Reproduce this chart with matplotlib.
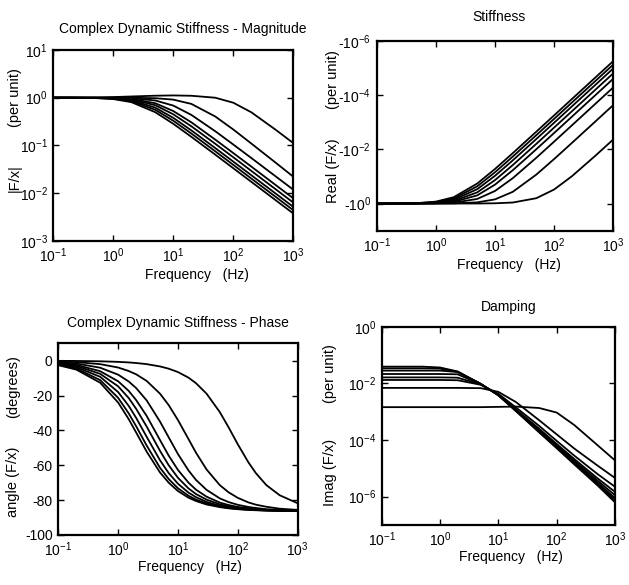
import matplotlib
matplotlib.use("Agg")
import matplotlib.pyplot as plt
from matplotlib.ticker import FixedLocator, FixedFormatter, NullLocator

plt.rcParams['font.family'] = ['Liberation Sans', 'DejaVu Sans']
plt.rcParams['mathtext.fontset'] = 'custom'
plt.rcParams['mathtext.rm'] = 'Liberation Sans'
plt.rcParams['mathtext.it'] = 'Liberation Sans:italic'
plt.rcParams['mathtext.default'] = 'regular'
plt.rcParams['axes.unicode_minus'] = False

# ---------------- data ----------------
freq_hz = [0.1, 0.2, 0.5, 1, 2, 5, 10, 20, 50, 100, 200, 500, 1000]
freq_phase_hz = [0.1, 0.2, 0.5, 1, 1.5, 2, 3, 5, 7, 10, 15, 20, 30, 50, 70,
                 100, 150, 200, 300, 500, 1000]

# |F/x| (per unit), curves A (highest corner) ... H (lowest corner)
mag_A = [1.0, 1.0, 1.01, 1.03, 1.06, 1.10, 1.115, 1.097, 0.998, 0.784, 0.493, 0.2155, 0.1115]
mag_B = [1.0, 1.0, 1.0, 0.999, 0.996, 0.975, 0.910, 0.740, 0.403, 0.215, 0.109, 0.044, 0.022]
mag_C = [1.0, 1.0, 0.998, 0.993, 0.974, 0.874, 0.682, 0.435, 0.198, 0.104, 0.0542, 0.0227, 0.01175]
mag_D = [1.0, 0.999, 0.996, 0.984, 0.943, 0.765, 0.524, 0.304, 0.132, 0.0689, 0.0358, 0.01496, 0.00774]
mag_E = [1.0, 0.999, 0.993, 0.976, 0.918, 0.695, 0.448, 0.251, 0.108, 0.0562, 0.0291, 0.01218, 0.0063]
mag_F = [1.0, 0.998, 0.990, 0.964, 0.883, 0.618, 0.377, 0.206, 0.0878, 0.0456, 0.0236, 0.0099, 0.00512]
mag_G = [0.999, 0.998, 0.986, 0.952, 0.848, 0.557, 0.328, 0.177, 0.0750, 0.0389, 0.0201, 0.00844, 0.00436]
mag_H = [0.999, 0.997, 0.981, 0.935, 0.806, 0.496, 0.283, 0.151, 0.0639, 0.0331, 0.01715, 0.00718, 0.00372]

# -Real(F/x) (per unit)
real_A = [1.0, 1.0, 1.0, 0.9998, 0.9991, 0.9943, 0.9776, 0.916, 0.6353, 0.3034, 0.0982, 0.01713, 4.337e-3]
real_B = [1.0, 1.0, 0.9989, 0.9957, 0.983, 0.9035, 0.7007, 0.3692, 0.0856, 0.02287, 5.818e-3, 9.36e-4, 2.34e-4]
real_C = [0.9998, 0.9992, 0.995, 0.981, 0.929, 0.677, 0.344, 0.1159, 0.02053, 5.214e-3, 1.309e-3, 2.097e-4, 5.24e-5]
real_D = [0.9996, 0.998, 0.990, 0.962, 0.863, 0.501, 0.2006, 0.0590, 0.00994, 2.504e-3, 6.27e-4, 1.004e-4, 2.51e-5]
real_E = [0.9994, 0.9975, 0.984, 0.941, 0.798, 0.388, 0.1367, 0.0381, 0.0063, 1.582e-3, 3.96e-4, 6.34e-5, 1.584e-5]
real_F = [0.999, 0.996, 0.977, 0.913, 0.724, 0.296, 0.0950, 0.02557, 0.004182, 1.049e-3, 2.624e-4, 4.2e-5, 1.05e-5]
real_G = [0.9987, 0.995, 0.968, 0.883, 0.654, 0.232, 0.0703, 0.01855, 0.003016, 7.56e-4, 1.89e-4, 3.025e-5, 7.56e-6]
real_H = [0.998, 0.993, 0.957, 0.849, 0.584, 0.1835, 0.0532, 0.01385, 0.002244, 5.62e-4, 1.404e-4, 2.247e-5, 5.62e-6]

# angle(F/x) (degrees), sampled at freq_phase_hz
phase_A = [-0.07, -0.13, -0.33, -0.65, -0.98, -1.31, -1.96, -3.27, -4.57, -6.52, -9.72,
           -12.9, -18.9, -29.5, -38.2, -48.0, -58.3, -64.5, -71.4, -77.2, -81.8]
phase_B = [-0.39, -0.79, -1.96, -3.9, -5.9, -7.8, -11.6, -18.9, -25.5, -34.1, -45.0,
           -52.8, -62.4, -71.4, -75.5, -78.7, -81.3, -82.6, -83.8, -84.9, -85.6]
phase_C = [-0.81, -1.62, -4.0, -8.0, -11.9, -15.7, -22.8, -34.9, -44.0, -53.6, -63.0,
           -68.4, -74.1, -79.0, -81.1, -82.7, -83.9, -84.5, -85.2, -85.6, -86.0]
phase_D = [-1.20, -2.39, -6.0, -11.8, -17.3, -22.6, -31.7, -45.5, -54.5, -62.7, -70.0,
           -74.0, -78.0, -81.4, -82.8, -83.9, -84.7, -85.1, -85.6, -85.9, -86.2]
phase_E = [-1.51, -3.01, -7.5, -14.7, -21.4, -27.6, -37.8, -51.7, -60.0, -67.2, -73.3,
           -76.5, -79.7, -82.4, -83.5, -84.4, -85.1, -85.4, -85.7, -86.0, -86.2]
phase_F = [-1.86, -3.72, -9.2, -18.0, -25.9, -32.8, -43.7, -57.1, -64.5, -70.6, -75.7,
           -78.3, -81.0, -83.2, -84.1, -84.8, -85.3, -85.6, -85.9, -86.1, -86.2]
phase_G = [-2.24, -4.48, -11.1, -21.3, -30.2, -37.6, -48.7, -61.4, -67.9, -73.2, -77.5,
           -79.7, -81.9, -83.7, -84.5, -85.1, -85.5, -85.7, -85.9, -86.1, -86.3]
phase_H = [-2.56, -5.10, -12.6, -24.0, -33.5, -41.2, -52.2, -64.1, -70.0, -74.8, -78.6,
           -80.5, -82.5, -84.0, -84.7, -85.2, -85.6, -85.8, -86.0, -86.2, -86.3]

# Imag(F/x) (per unit)
imag_A = [1.445e-3, 1.445e-3, 1.445e-3, 1.445e-3, 1.445e-3, 1.445e-3, 1.479e-3, 1.514e-3, 1.349e-3, 9.333e-4, 3.388e-4, 6.607e-5, 1.905e-5]
imag_B = [6.918e-3, 6.918e-3, 6.918e-3, 6.918e-3, 6.918e-3, 6.761e-3, 5.012e-3, 2.188e-3, 5.012e-4, 1.585e-4, 5.012e-5, 1.259e-5, 4.571e-6]
imag_C = [0.01318, 0.01318, 0.01318, 0.01318, 0.01288, 8.913e-3, 4.266e-3, 1.413e-3, 3.162e-4, 9.333e-5, 2.818e-5, 6.310e-6, 2.239e-6]
imag_D = [0.01622, 0.01622, 0.01622, 0.01622, 0.01585, 9.120e-3, 3.981e-3, 1.202e-3, 2.512e-4, 7.244e-5, 2.138e-5, 4.467e-6, 1.479e-6]
imag_E = [0.02138, 0.02138, 0.02138, 0.02138, 0.02089, 9.333e-3, 3.890e-3, 1.122e-3, 2.239e-4, 6.457e-5, 1.862e-5, 3.715e-6, 1.122e-6]
imag_F = [0.02818, 0.02818, 0.02818, 0.02818, 0.02512, 9.550e-3, 3.802e-3, 1.096e-3, 2.089e-4, 5.888e-5, 1.660e-5, 3.162e-6, 8.913e-7]
imag_G = [0.03388, 0.03388, 0.03388, 0.03311, 0.02570, 9.550e-3, 3.802e-3, 1.072e-3, 1.950e-4, 5.495e-5, 1.514e-5, 2.818e-6, 7.586e-7]
imag_H = [0.03890, 0.03890, 0.03890, 0.03631, 0.02630, 9.550e-3, 3.802e-3, 1.047e-3, 1.862e-4, 5.130e-5, 1.380e-5, 2.510e-6, 6.310e-7]

x_ticks = [0.1, 1, 10, 100, 1000]
x_ticklabels = [r'$10^{-1}$', r'$10^{0}$', r'$10^{1}$', r'$10^{2}$', r'$10^{3}$']
mag_ticks = [1e-3, 1e-2, 1e-1, 1, 10]
mag_ticklabels = [r'$10^{-3}$', r'$10^{-2}$', r'$10^{-1}$', r'$10^{0}$', r'$10^{1}$']
real_ticks = [1, 1e-2, 1e-4, 1e-6]
real_ticklabels = [r'-$10^{0}$', r'-$10^{-2}$', r'-$10^{-4}$', r'-$10^{-6}$']
phase_ticks = [0, -20, -40, -60, -80, -100]
phase_ticklabels = ['0', '-20', '-40', '-60', '-80', '-100']
imag_ticks = [1, 1e-2, 1e-4, 1e-6]
imag_ticklabels = [r'$10^{0}$', r'$10^{-2}$', r'$10^{-4}$', r'$10^{-6}$']

titles = ['Complex Dynamic Stiffness - Magnitude', 'Stiffness',
          'Complex Dynamic Stiffness - Phase', 'Damping']
xlabel_text = 'Frequency   (Hz)'

mag_curves = [mag_A, mag_B, mag_C, mag_D, mag_E, mag_F, mag_G, mag_H]
real_curves = [real_A, real_B, real_C, real_D, real_E, real_F, real_G, real_H]
phase_curves = [phase_A, phase_B, phase_C, phase_D, phase_E, phase_F, phase_G, phase_H]
imag_curves = [imag_A, imag_B, imag_C, imag_D, imag_E, imag_F, imag_G, imag_H]

# ---------------- figure ----------------
W, H = 629, 585
fig = plt.figure(figsize=(W / 100, H / 100), dpi=100)


def px_axes(left, top, right, bottom):
    return [left / W, 1 - bottom / H, (right - left) / W, (bottom - top) / H]


ax_mag = fig.add_axes(px_axes(53.3, 50.0, 293.3, 240.7))
ax_real = fig.add_axes(px_axes(376.7, 40.7, 613.3, 230.7))
ax_phase = fig.add_axes(px_axes(58.3, 343.3, 297.7, 535.0))
ax_imag = fig.add_axes(px_axes(381.7, 326.7, 615.0, 525.0))

line_kw = dict(color='black', lw=1.3, solid_joinstyle='round')

for c in mag_curves:
    ax_mag.plot(freq_hz, c, **line_kw)
for c in real_curves:
    ax_real.plot(freq_hz, c, **line_kw)
for c in phase_curves:
    ax_phase.plot(freq_phase_hz, c, **line_kw)
for c in imag_curves:
    ax_imag.plot(freq_hz, c, **line_kw)

for ax in (ax_mag, ax_real, ax_phase, ax_imag):
    ax.set_xscale('log')
    ax.set_xlim(0.1, 1000)
    ax.xaxis.set_major_locator(FixedLocator(x_ticks))
    ax.xaxis.set_major_formatter(FixedFormatter(x_ticklabels))
    ax.xaxis.set_minor_locator(NullLocator())
    for s in ax.spines.values():
        s.set_linewidth(1.6)
    ax.tick_params(direction='in', length=4, width=1.0, top=True, right=True,
                   labelsize=10, pad=4)

ax_mag.set_yscale('log')
ax_mag.set_ylim(1e-3, 10)
ax_mag.yaxis.set_major_locator(FixedLocator(mag_ticks))
ax_mag.yaxis.set_major_formatter(FixedFormatter(mag_ticklabels))
ax_mag.yaxis.set_minor_locator(NullLocator())

ax_real.set_yscale('log')
ax_real.set_ylim(10, 1e-6)
ax_real.yaxis.set_major_locator(FixedLocator(real_ticks))
ax_real.yaxis.set_major_formatter(FixedFormatter(real_ticklabels))
ax_real.yaxis.set_minor_locator(NullLocator())

ax_phase.set_ylim(-100, 10)
ax_phase.yaxis.set_major_locator(FixedLocator(phase_ticks))
ax_phase.yaxis.set_major_formatter(FixedFormatter(phase_ticklabels))

ax_imag.set_yscale('log')
ax_imag.set_ylim(1e-7, 1)
ax_imag.yaxis.set_major_locator(FixedLocator(imag_ticks))
ax_imag.yaxis.set_major_formatter(FixedFormatter(imag_ticklabels))
ax_imag.yaxis.set_minor_locator(NullLocator())


def ftext(x, y, s, **kw):
    fig.text(x / W, 1 - y / H, s, ha='center', va='center', **kw)


# titles
ftext(183, 29, titles[0], fontsize=10)
ftext(499, 17, titles[1], fontsize=10)
ftext(178, 323, titles[2], fontsize=10)
ftext(509, 307, titles[3], fontsize=10)

# x labels
ftext(197, 275, xlabel_text, fontsize=10)
ftext(509, 265, xlabel_text, fontsize=10)
ftext(190, 567, xlabel_text, fontsize=10)
ftext(511, 557, xlabel_text, fontsize=10)

# y labels (two parts each)
ftext(15, 178, '|F/x|', fontsize=10.5, rotation=90)
ftext(15, 98, '(per unit)', fontsize=10.5, rotation=90)
ftext(333, 171, 'Real (F/x)', fontsize=10.5, rotation=90)
ftext(333, 80, '(per unit)', fontsize=10.5, rotation=90)
ftext(13, 482, 'angle (F/x)', fontsize=10.5, rotation=90)
ftext(13, 387, '(degrees)', fontsize=10.5, rotation=90)
ftext(330, 472, 'Imag (F/x)', fontsize=10.5, rotation=90)
ftext(330, 374, '(per unit)', fontsize=10.5, rotation=90)

fig.savefig('out.png', dpi=100)
